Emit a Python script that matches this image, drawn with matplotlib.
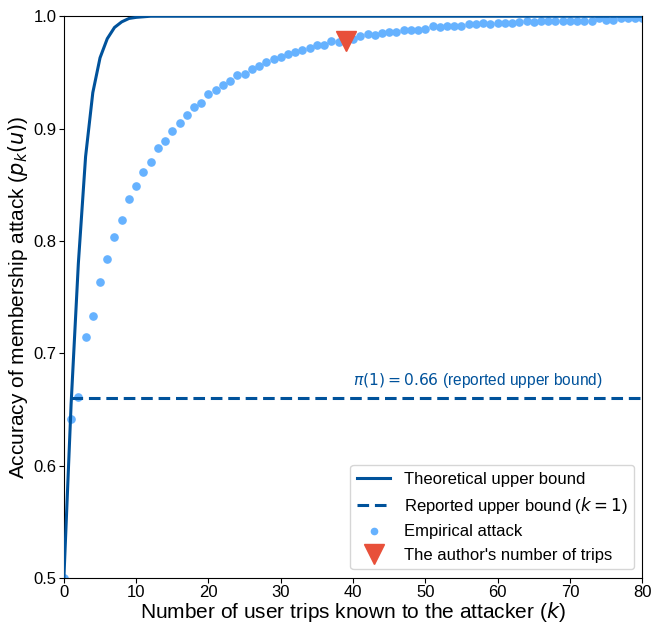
import matplotlib
matplotlib.use('Agg')
import matplotlib.pyplot as plt

plt.rcParams['font.family'] = ['Liberation Sans', 'DejaVu Sans']

# theoretical upper bound, read at integer k (flat at 1.0 afterwards)
theory_k = [0, 1, 2, 3, 4, 5, 6, 7, 8, 9, 10, 11, 12, 80]
theory_p = [0.5, 0.655, 0.78, 0.875, 0.932, 0.963, 0.980, 0.990, 0.995,
            0.998, 0.999, 0.9995, 1.0, 1.0]

# empirical attack accuracy for k = 0..80
emp_p = [0.500, 0.641, 0.661, 0.714, 0.733, 0.763, 0.784, 0.803, 0.819, 0.837,
         0.849, 0.861, 0.870, 0.883, 0.889, 0.898, 0.905, 0.912, 0.919, 0.923,
         0.931, 0.934, 0.939, 0.942, 0.948, 0.949, 0.953, 0.956, 0.959, 0.962,
         0.964, 0.966, 0.968, 0.970, 0.972, 0.974, 0.974, 0.978, 0.977, 0.979,
         0.980, 0.982, 0.984, 0.983, 0.985, 0.986, 0.986, 0.988, 0.988, 0.988,
         0.989, 0.991, 0.990, 0.991, 0.991, 0.991, 0.993, 0.993, 0.994, 0.993,
         0.994, 0.994, 0.994, 0.995, 0.996, 0.995, 0.996, 0.996, 0.996, 0.996,
         0.996, 0.996, 0.996, 0.996, 0.998, 0.997, 0.997, 0.998, 0.998, 0.998,
         0.998]
emp_k = list(range(len(emp_p)))

reported_k = [1, 80]
reported_p = [0.66, 0.66]

author_k = [39]
author_p = [0.978]

dark_blue = '#00529B'
light_blue = '#66B2FF'
red = '#E8503A'

fig, ax = plt.subplots(figsize=(6.52, 6.24), dpi=100)
fig.subplots_adjust(left=0.098, right=0.985, top=0.974, bottom=0.074)

ax.plot(theory_k, theory_p, color=dark_blue, lw=2.2, label='Theoretical upper bound', zorder=3)
ax.plot(reported_k, reported_p, color=dark_blue, lw=2.2, ls='--', dashes=(3.8, 1.9),
        label=r'Reported upper bound ($k = 1$)', zorder=3)
ax.plot(emp_k, emp_p, 'o', color=light_blue, ms=5.2, label='Empirical attack', zorder=2)
ax.plot(author_k, author_p, 'v', color=red, ms=15, label="The author's number of trips", zorder=4)

ax.text(40, 0.672, r'$\pi(1) = 0.66$ (reported upper bound)', color=dark_blue, fontsize=11.2)

ax.set_xlim(0, 80)
ax.set_ylim(0.5, 1.0)
ax.set_xticks(range(0, 81, 10))
ax.set_yticks([0.5, 0.6, 0.7, 0.8, 0.9, 1.0])
ax.tick_params(labelsize=12, pad=2)
ax.set_xlabel(r'Number of user trips known to the attacker ($k$)', fontsize=15, labelpad=0)
ax.set_ylabel(r'Accuracy of membership attack ($p_k(u)$)', fontsize=15, labelpad=2)

leg = ax.legend(loc='lower right', fontsize=12, borderaxespad=0.5)
leg.legend_handles[2].set_markersize(4.5)

plt.savefig('out.png', dpi=100)
